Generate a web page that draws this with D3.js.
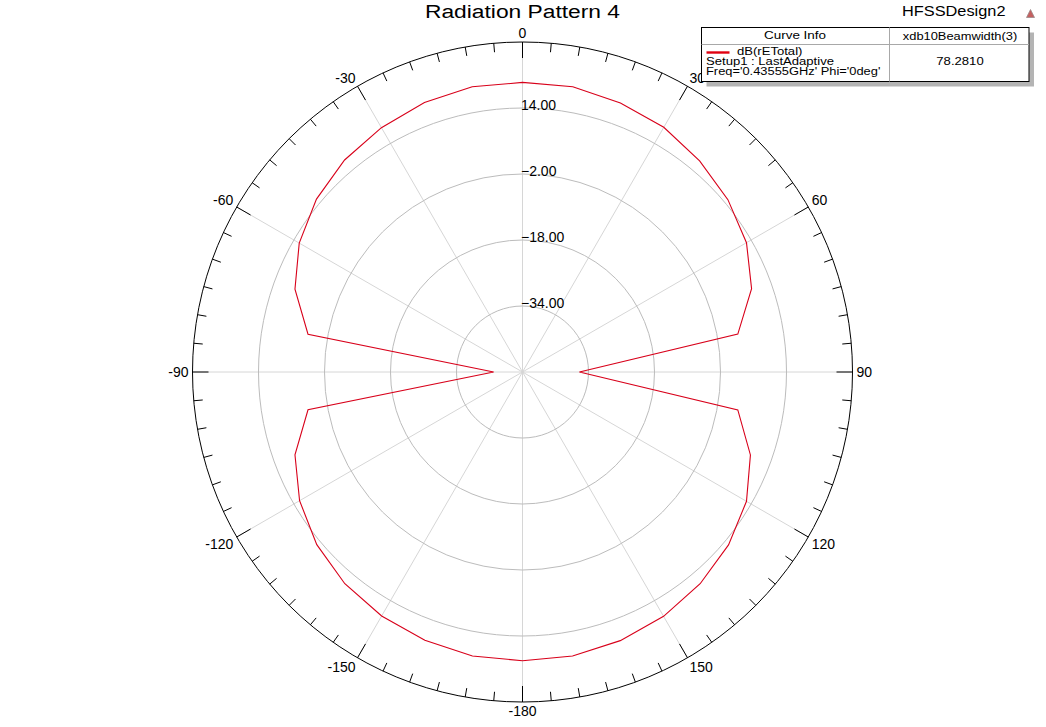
<!DOCTYPE html>
<html>
<head>
<meta charset="utf-8">
<script src="https://cdn.jsdelivr.net/npm/d3@7"></script>
<style>
  body { margin: 0; background: #fff; }
  text { font-family: Arial, "Liberation Sans", sans-serif; fill: #000; }
</style>
</head>
<body>
<div id="chart"></div>
<script>
// theta in degrees (0 at top, clockwise), values in dB(rETotal)
const thetaDeg = [-180, -170, -160, -150, -140, -130, -120, -110, -100, -90,
                  -80, -70, -60, -50, -40, -30, -20, -10, 0,
                  10, 20, 30, 40, 50, 60, 70, 80, 90,
                  100, 110, 120, 130, 140, 150, 160, 170, 180];
const rETotalDb = [20.0, 19.9, 19.2, 18.3, 17.0, 15.1, 12.4, 8.7, 2.8, -43.0,
                   2.8, 8.7, 12.5, 15.2, 17.1, 18.4, 19.5, 20.2, 20.2,
                   20.2, 19.4, 18.5, 16.8, 15.0, 12.7, 9.1, 3.0, -36.2,
                   3.0, 8.8, 12.7, 15.2, 17.0, 18.4, 19.3, 19.9, 20.0];
const radialTicks = [-34, -18, -2, 14];
const radialDomain = [-50, 30];
const angleLabels = [0, 30, 60, 90, 120, 150, -180, -150, -120, -90, -60, -30];
const curveName = ["dB(rETotal)", "Setup1 : LastAdaptive", "Freq='0.43555GHz' Phi='0deg'"];
const beamwidth = "78.2810";

const width = 1046, height = 727;
const cx = 522.5, cy = 372, outerR = 330;

const svg = d3.select("#chart").append("svg")
  .attr("width", width)
  .attr("height", height)
  .attr("viewBox", `0 0 ${width} ${height}`);

// text helper: HFSS fonts render a bit wide, so allow horizontal stretch
function label(parent, str, x, y, size, anchor, sx, baseline) {
  return parent.append("text")
    .attr("transform", `translate(${x},${y}) scale(${sx || 1},1)`)
    .attr("text-anchor", anchor || "start")
    .attr("dominant-baseline", baseline || "auto")
    .attr("font-size", size)
    .text(str);
}

label(svg, "Radiation Pattern 4", cx, 18, 19, "middle", 1.2);
label(svg, "HFSSDesign2", 902, 16, 15, "start", 1.09);

// little logo
svg.append("path")
  .attr("d", "M1030.5,9.5 L1034.5,17.5 L1026.5,17.5 Z")
  .attr("fill", "#c46060")
  .attr("stroke", "#9a8a8a")
  .attr("stroke-width", 0.8);

const rScale = d3.scaleLinear().domain(radialDomain).range([0, outerR]);
const toRad = d => d * Math.PI / 180;

const g = svg.append("g").attr("transform", `translate(${cx},${cy})`);

// spokes every 30 degrees
g.selectAll(".spoke")
  .data(d3.range(0, 360, 30))
  .enter()
  .append("line")
  .attr("class", "spoke")
  .attr("x1", 0).attr("y1", 0)
  .attr("x2", d => outerR * Math.sin(toRad(d)))
  .attr("y2", d => -outerR * Math.cos(toRad(d)))
  .attr("stroke", "#d6d6d6")
  .attr("stroke-width", 1);

// grid circles
g.selectAll(".ring")
  .data(radialTicks)
  .enter()
  .append("circle")
  .attr("class", "ring")
  .attr("r", d => rScale(d))
  .attr("fill", "none")
  .attr("stroke", "#bcbcbc")
  .attr("stroke-width", 1);

// outer circle
g.append("circle")
  .attr("r", outerR)
  .attr("fill", "none")
  .attr("stroke", "#000")
  .attr("stroke-width", 1);

// tick marks every 5 degrees, longer every 30
g.selectAll(".tick")
  .data(d3.range(0, 360, 5))
  .enter()
  .append("line")
  .attr("class", "tick")
  .attr("x1", d => outerR * Math.sin(toRad(d)))
  .attr("y1", d => -outerR * Math.cos(toRad(d)))
  .attr("x2", d => (outerR - (d % 30 === 0 ? 16 : 9)) * Math.sin(toRad(d)))
  .attr("y2", d => -(outerR - (d % 30 === 0 ? 16 : 9)) * Math.cos(toRad(d)))
  .attr("stroke", "#000")
  .attr("stroke-width", 1);

// angle labels
angleLabels.forEach(a => {
  const s = Math.sin(toRad(a)), c = Math.cos(toRad(a));
  const rr = outerR + 4;
  const anchor = Math.abs(s) < 0.01 ? "middle" : (s > 0 ? "start" : "end");
  const base = Math.abs(c) < 0.01 ? "central" : (c > 0 ? "auto" : "hanging");
  label(g, String(a), rr * s, -rr * c, 14, anchor, 1, base);
});

// radial labels
radialTicks.forEach(t => {
  label(g, d3.format(".2f")(t), -1.5, -rScale(t) + 2, 14, "start", 1);
});

// the pattern curve
const pts = thetaDeg.map((t, i) => [toRad(t), rScale(rETotalDb[i])]);
const line = d3.lineRadial()
  .angle(d => d[0])
  .radius(d => d[1]);

g.append("path")
  .datum(pts)
  .attr("d", line)
  .attr("fill", "none")
  .attr("stroke", "#d8001a")
  .attr("stroke-width", 1.1);

// legend table
const lg = svg.append("g");
const bx = 701.5, by = 27.5, bw = 327.5, bh = 54, colX = 889.5, rowY = 44.5;
lg.append("rect")
  .attr("x", bx + 5).attr("y", by + 5)
  .attr("width", bw).attr("height", bh)
  .attr("fill", "#b4b4b4");
lg.append("rect")
  .attr("x", bx).attr("y", by)
  .attr("width", bw).attr("height", bh)
  .attr("fill", "#fff")
  .attr("stroke", "#000")
  .attr("stroke-width", 1);
lg.append("line")
  .attr("x1", bx).attr("x2", bx + bw)
  .attr("y1", rowY).attr("y2", rowY)
  .attr("stroke", "#a8a8a8");
lg.append("line")
  .attr("x1", colX).attr("x2", colX)
  .attr("y1", by).attr("y2", by + bh)
  .attr("stroke", "#a8a8a8");

label(lg, "Curve Info", 795, 39, 11.5, "middle", 1.17);
label(lg, "xdb10Beamwidth(3)", 960, 39.5, 11.5, "middle", 1.12);

lg.append("line")
  .attr("x1", 706.5).attr("x2", 729.5)
  .attr("y1", 52.5).attr("y2", 52.5)
  .attr("stroke", "#e00010")
  .attr("stroke-width", 2.4);

// the three curve lines sit tight together, as in the HFSS table
label(lg, curveName[0], 737, 54.5, 11, "start", 1.19);
label(lg, curveName[1], 706, 64.5, 11, "start", 1.19);
label(lg, curveName[2], 706, 75, 11, "start", 1.17);
label(lg, beamwidth, 960, 65, 11.5, "middle", 1.14);
</script>
</body>
</html>
